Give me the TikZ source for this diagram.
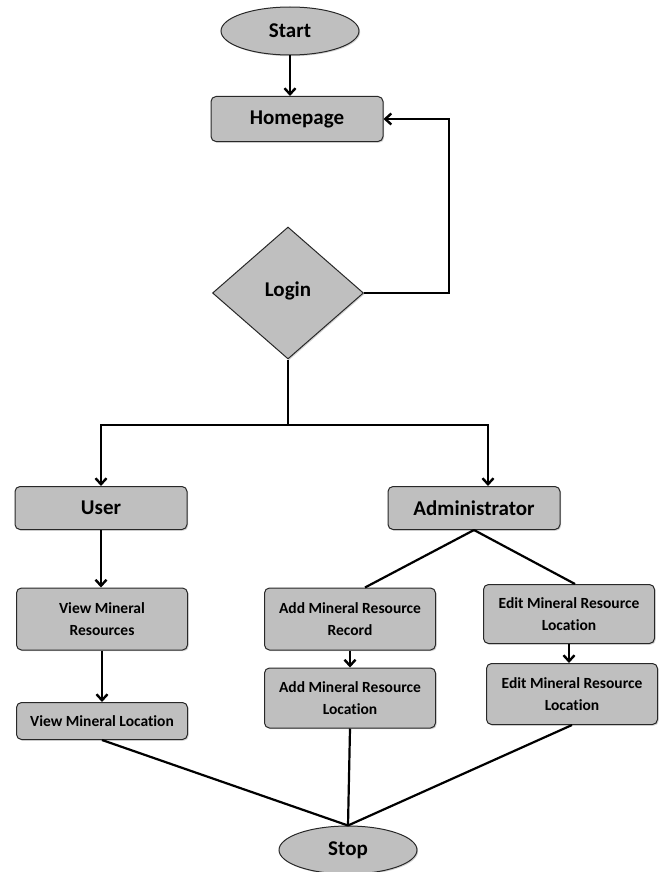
\documentclass[tikz,border=0pt]{standalone}
\usepackage{fontspec}
\setmainfont{Carlito}[Ligatures=NoCommon]
\usetikzlibrary{shapes.geometric,arrows.meta,shadows}
\definecolor{boxgray}{RGB}{191,191,191}
\definecolor{edgegray}{RGB}{40,40,40}

\begin{document}
\begin{tikzpicture}[x=1pt,y=-1pt,
  shape base/.style={draw=edgegray, fill=boxgray, line width=1pt, inner sep=0pt, align=center,
    drop shadow={shadow xshift=1.2pt, shadow yshift=-1.2pt, opacity=0.35}},
  oval/.style={shape base, ellipse, minimum width=138pt, minimum height=48pt, font=\fontsize{21}{25}\selectfont\bfseries},
  decision/.style={shape base, diamond, minimum width=151pt, minimum height=132pt, font=\fontsize{21}{25}\selectfont\bfseries},
  bigbox/.style={shape base, rounded corners=5pt, minimum width=172pt, font=\fontsize{21}{25}\selectfont\bfseries},
  smallbox/.style={shape base, rounded corners=5pt, minimum width=171pt, font=\fontsize{15.5}{22}\selectfont\bfseries},
  link/.style={line width=2.6pt, black},
  arrow/.style={link, -{Straight Barb[length=6pt,width=11pt,line width=2.4pt]}}]
\useasboundingbox (0,0) rectangle (665,872);
% top part
\node[oval] (start) at (290,31) {Start};
\node[bigbox, minimum height=45pt] (home) at (297,119) {Homepage};
\node[decision] (login) at (288,293) {\raisebox{7pt}{Login}};
\draw[arrow] (start.south) -- (start.south |- home.north);
\draw[arrow] (login.east) -- ++(85,0) |- (home.east);
% branch to user and admin
\coordinate (fork) at (288,425);
\node[bigbox, minimum height=43pt] (user) at (101,508) {User};
\node[bigbox, minimum height=43pt] (admin) at (474,508) {Administrator};
\draw[link] (login.south) -- (fork);
\draw[arrow] (fork) -| (user.north);
\draw[arrow] (fork) -| ([xshift=14pt]admin.north);
% user side
\node[smallbox, minimum height=62pt] (viewres) at (102,619) {View Mineral\\Resources};
\node[smallbox, minimum height=37pt] (viewloc) at (102,721) {View Mineral Location};
\draw[arrow] (user.south) -- (user.south |- viewres.north);
\draw[arrow] (viewres) -- (viewloc);
% admin side
\node[smallbox, minimum height=62pt] (addrec) at (350,619) {Add Mineral Resource\\Record};
\node[smallbox, minimum height=60pt] (addloc) at (350,698) {Add Mineral Resource\\Location};
\node[smallbox, minimum height=59pt] (editloc) at (569,614) {Edit Mineral Resource\\Location};
\node[smallbox, minimum height=61pt] (editloc2) at (572,694) {Edit Mineral Resource\\Location};
\draw[link, line width=2.2pt] (admin.south) -- ([xshift=15pt]addrec.north);
\draw[link, line width=2.2pt] (admin.south) -- ([xshift=6pt]editloc.north);
\draw[arrow] (addrec) -- (addloc);
\draw[arrow] (editloc.south) -- (editloc.south |- editloc2.north);
% end
\node[oval] (stop) at (348,850) {Stop};
\draw[link, line width=2.2pt] (viewloc.south) -- (stop.north);
\draw[link, line width=2.2pt] (addloc.south) -- (stop.north);
\draw[link, line width=2.2pt] (editloc2.south) -- (stop.north);
\end{tikzpicture}
\end{document}
